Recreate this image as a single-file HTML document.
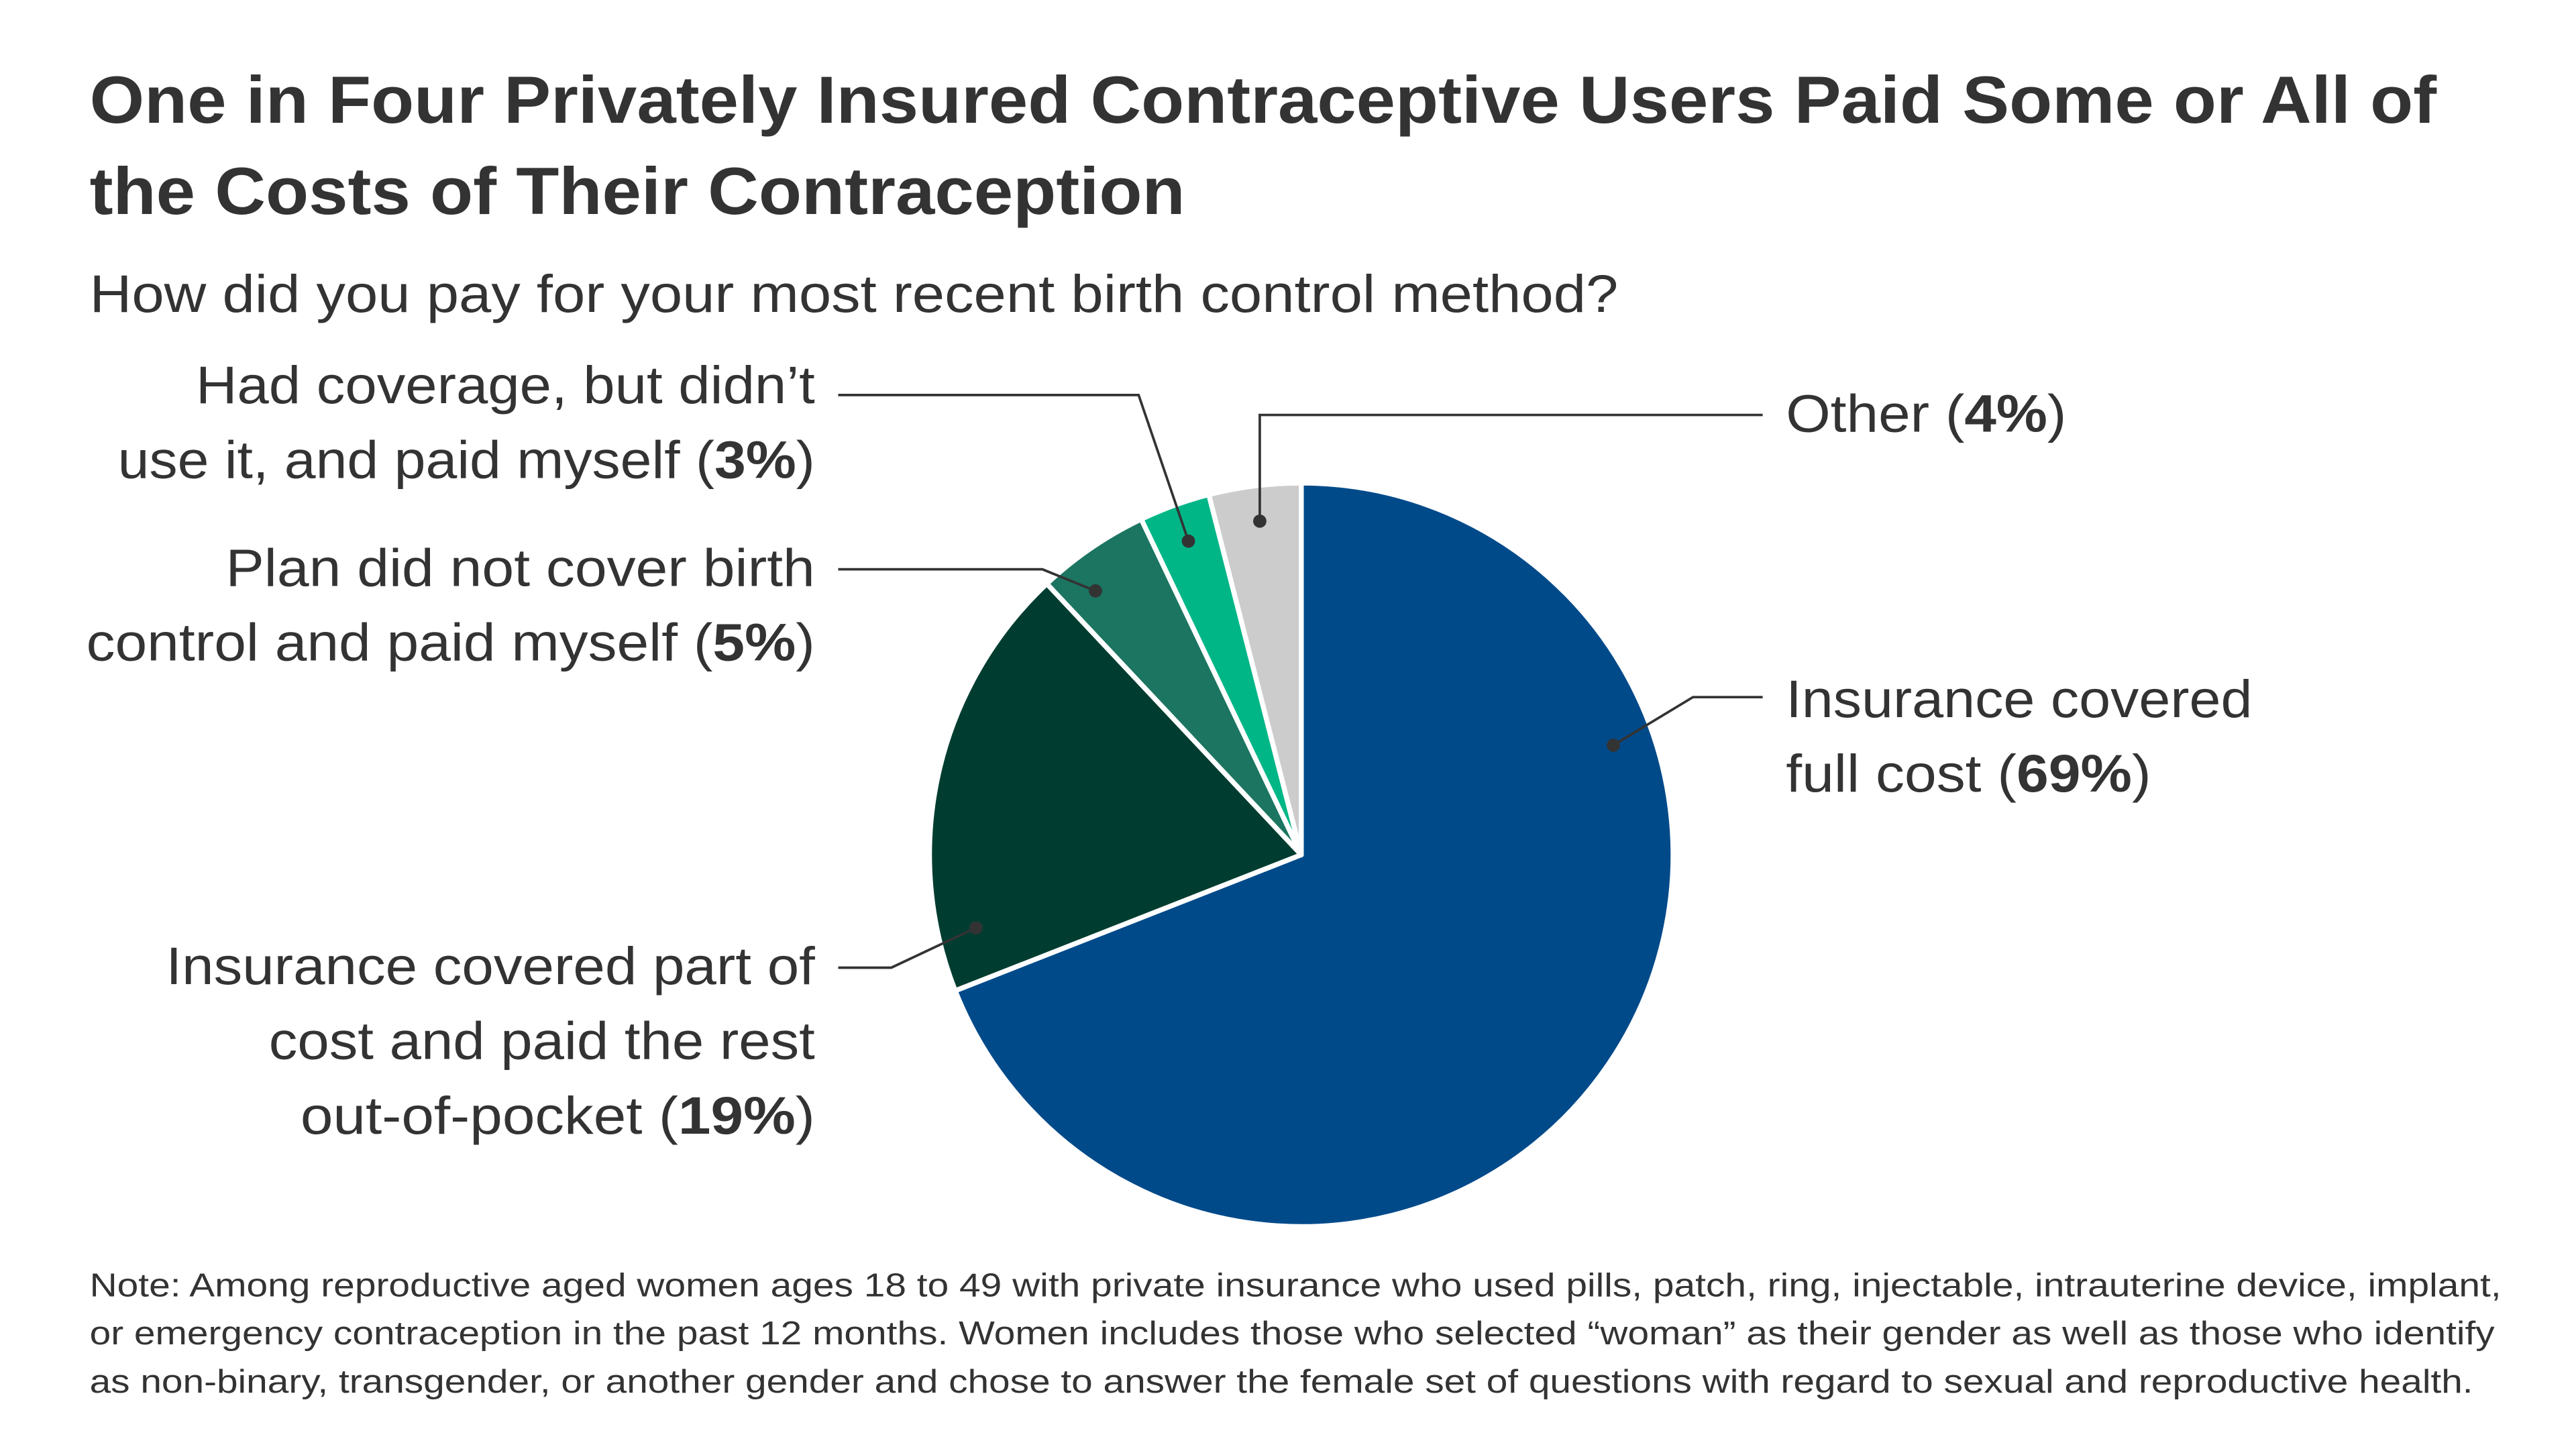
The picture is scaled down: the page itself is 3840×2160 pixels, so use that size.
<!DOCTYPE html>
<html><head><meta charset="utf-8"><style>
html,body{margin:0;padding:0;background:#fff;}
svg{display:block;}
text{font-family:"Liberation Sans",sans-serif;fill:#333;}
</style></head><body>
<svg width="3840" height="2160" viewBox="0 0 1552 873" xmlns="http://www.w3.org/2000/svg">
<rect width="1552" height="873" fill="#fff"/>
<g font-weight="bold" font-size="40">
<text x="54" y="74" textLength="1414" lengthAdjust="spacingAndGlyphs">One in Four Privately Insured Contraceptive Users Paid Some or All of</text>
<text x="54" y="129" textLength="660" lengthAdjust="spacingAndGlyphs">the Costs of Their Contraception</text>
</g>
<text x="54" y="188" font-size="32" textLength="921" lengthAdjust="spacingAndGlyphs">How did you pay for your most recent birth control method?</text>

<g stroke="#fff" stroke-width="3" stroke-linejoin="round">
<path d="M784,515 L784,291 A224,224 0 1 1 575.5,596.9 Z" fill="#004a8a"/>
<path d="M784,515 L575.5,596.9 A224,224 0 0 1 630.7,351.7 Z" fill="#003d30"/>
<path d="M784,515 L630.7,351.7 A224,224 0 0 1 687.6,312.8 Z" fill="#1b7561"/>
<path d="M784,515 L687.6,312.8 A224,224 0 0 1 728.3,298.0 Z" fill="#00b687"/>
<path d="M784,515 L728.3,298.0 A224,224 0 0 1 784,291 Z" fill="#cccccc"/>
</g>

<g stroke="#333" stroke-width="1.5" fill="none">
<polyline points="505,238 686,238 716,326"/>
<polyline points="1062,250 759,250 759,314"/>
<polyline points="505,343 628,343 660,356"/>
<polyline points="1062,420 1020,420 972,449"/>
<polyline points="505,583 537,583 588,559"/>
</g>
<g fill="#333">
<circle cx="716" cy="326" r="4"/><circle cx="759" cy="314" r="4"/>
<circle cx="660" cy="356" r="4"/><circle cx="972" cy="449" r="4"/>
<circle cx="588" cy="559" r="4"/>
</g>

<g font-size="32">
<text x="491" y="243" text-anchor="end" textLength="373" lengthAdjust="spacingAndGlyphs">Had coverage, but didn’t</text>
<text x="491" y="288" text-anchor="end" textLength="420" lengthAdjust="spacingAndGlyphs">use it, and paid myself (<tspan font-weight="bold">3%</tspan>)</text>
<text x="491" y="353" text-anchor="end" textLength="355" lengthAdjust="spacingAndGlyphs">Plan did not cover birth</text>
<text x="491" y="398" text-anchor="end" textLength="439" lengthAdjust="spacingAndGlyphs">control and paid myself (<tspan font-weight="bold">5%</tspan>)</text>
<text x="491" y="593" text-anchor="end" textLength="391" lengthAdjust="spacingAndGlyphs">Insurance covered part of</text>
<text x="491" y="638" text-anchor="end" textLength="329" lengthAdjust="spacingAndGlyphs">cost and paid the rest</text>
<text x="491" y="683" text-anchor="end" textLength="310" lengthAdjust="spacingAndGlyphs">out-of-pocket (<tspan font-weight="bold">19%</tspan>)</text>
<text x="1076" y="260" textLength="169" lengthAdjust="spacingAndGlyphs">Other (<tspan font-weight="bold">4%</tspan>)</text>
<text x="1076" y="432" textLength="281" lengthAdjust="spacingAndGlyphs">Insurance covered</text>
<text x="1076" y="477" textLength="220" lengthAdjust="spacingAndGlyphs">full cost (<tspan font-weight="bold">69%</tspan>)</text>
</g>

<g font-size="20">
<text x="54" y="781" textLength="1453" lengthAdjust="spacingAndGlyphs">Note: Among reproductive aged women ages 18 to 49 with private insurance who used pills, patch, ring, injectable, intrauterine device, implant,</text>
<text x="54" y="810" textLength="1449" lengthAdjust="spacingAndGlyphs">or emergency contraception in the past 12 months. Women includes those who selected “woman” as their gender as well as those who identify</text>
<text x="54" y="839" textLength="1436" lengthAdjust="spacingAndGlyphs">as non-binary, transgender, or another gender and chose to answer the female set of questions with regard to sexual and reproductive health.</text>
</g>
</svg>
</body></html>
